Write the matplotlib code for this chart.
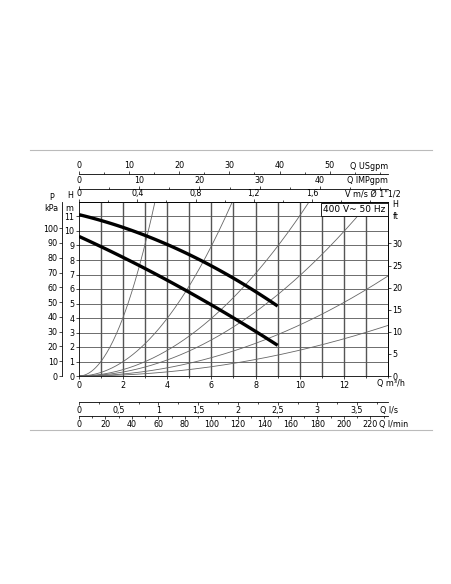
import matplotlib
matplotlib.use("Agg")
import matplotlib.pyplot as plt
import numpy as np

q_hi = [0, 1, 2, 3, 4, 5, 6, 7, 8, 9]
h_hi = [11.1, 10.75, 10.3, 9.7, 9.0, 8.3, 7.6, 6.8, 5.9, 4.75]
q_lo = [0, 1, 2, 3, 4, 5, 6, 7, 8, 9]
h_lo = [9.7, 8.9, 8.1, 7.35, 6.6, 5.8, 4.95, 4.05, 3.1, 2.05]
k_sys = [1.014, 0.249, 0.1105, 0.0692, 0.0352, 0.0178]

fs = 5.8
fig = plt.figure(figsize=(4.52, 5.84), dpi=100)
ax = fig.add_axes([79/452, 1-376/584, 309/452, 174/584])
ax.set_xlim(0, 14); ax.set_ylim(0, 12)
ax.set_xticks(range(0, 13, 2)); ax.set_xticks(range(15), minor=True)
ax.set_yticks(range(0, 12))
for x in range(1, 14):
    ax.axvline(x, color='#555', lw=1.0, zorder=1)
for y in range(1, 12):
    ax.axhline(y, color='#555', lw=0.6, zorder=1)
qq = np.linspace(0, 14, 300)
for k in k_sys:
    ax.plot(qq, k*qq**2, color='#666', lw=0.6, zorder=2)
for qd, hd in ((q_hi, h_hi), (q_lo, h_lo)):
    c = np.polyfit(qd, hd, 2)
    qs = np.linspace(qd[0], qd[-1], 100)
    ax.plot(qs, np.polyval(c, qs), color='black', lw=2.4, zorder=3, solid_capstyle='butt')
ax.tick_params(labelsize=fs, length=2, width=0.5, pad=1.5)
ax.tick_params(which='minor', length=1.5, width=0.5)
for s in ax.spines.values(): s.set_linewidth(0.6)
ax.text(13.9, 11.8, '400 V~ 50 Hz', ha='right', va='top', fontsize=6.5,
        bbox=dict(facecolor='white', edgecolor='black', lw=0.6, pad=1.5), zorder=5)

def sec(loc, f, fi, ticks, minor, top=True):
    s = ax.secondary_xaxis(loc, functions=(f, fi))
    s.set_xticks(ticks); s.set_xticks(minor, minor=True)
    s.tick_params(labelsize=fs, length=2, width=0.5, pad=1)
    s.tick_params(which='minor', length=1.5, width=0.5)
    s.spines[('top' if top else 'bottom')].set_linewidth(0.6)
    return s

sec(1.16, lambda q: q*4.403, lambda v: v/4.403, [0,10,20,30,40,50], np.arange(0,62,5))
sec(1.075, lambda q: q*3.666, lambda v: v/3.666, [0,10,20,30,40], np.arange(0,52,5))
s3 = sec('top', lambda q: q*0.1515, lambda v: v/0.1515, [0,0.4,0.8,1.2,1.6], np.arange(0,2.2,0.2))
s3.set_xticklabels(['0','0,4','0,8','1,2','1,6'])
b1 = sec(-0.15, lambda q: q/3.6, lambda v: v*3.6, [0,0.5,1,1.5,2,2.5,3,3.5], np.arange(0,4.0,0.25), top=False)
b1.set_xticklabels(['0','0,5','1','1,5','2','2,5','3','3,5'])
sec(-0.23, lambda q: q*16.667, lambda v: v/16.667, list(range(0,221,20)), np.arange(0,235,10), top=False)

l1 = ax.secondary_yaxis(-0.055, functions=(lambda h: h*9.81, lambda p: p/9.81))
l1.set_yticks(range(0, 101, 10))
l1.tick_params(labelsize=fs, length=2, width=0.5, pad=1)
l1.spines['left'].set_linewidth(0.6)
r1 = ax.secondary_yaxis('right', functions=(lambda h: h*3.281, lambda f: f/3.281))
r1.set_yticks(range(0, 35, 5))
r1.tick_params(labelsize=fs, length=2, width=0.5, pad=1)
r1.spines['right'].set_linewidth(0.6)

T = ax.transAxes
ax.text(1.0, 1.16+0.02, 'Q USgpm', transform=T, ha='right', va='bottom', fontsize=fs)
ax.text(1.0, 1.075+0.02, 'Q IMPgpm', transform=T, ha='right', va='bottom', fontsize=fs)
ax.text(1.04, 1.02, 'V m/s Ø 1"1/2', transform=T, ha='right', va='bottom', fontsize=fs)
ax.text(0.965, -0.02, 'Q m³/h', transform=T, ha='left', va='top', fontsize=fs)
ax.text(0.975, -0.17, 'Q l/s', transform=T, ha='left', va='top', fontsize=fs)
ax.text(0.97, -0.25, 'Q l/min', transform=T, ha='left', va='top', fontsize=fs)
ax.text(-0.02, 0.935, 'H\nm', transform=T, ha='right', va='bottom', fontsize=fs, linespacing=1.6)
ax.text(-0.09, 0.935, 'P\nkPa', transform=T, ha='center', va='bottom', fontsize=fs, linespacing=1.3)
ax.text(1.015, 1.01, 'H\nft', transform=T, ha='left', va='top', fontsize=fs, linespacing=1.4)

for yp in (150, 430):
    fig.add_artist(plt.Line2D([30/452, 432/452], [1-yp/584]*2, color='#bbb', lw=0.8))
fig.savefig('out.png', dpi=100)
